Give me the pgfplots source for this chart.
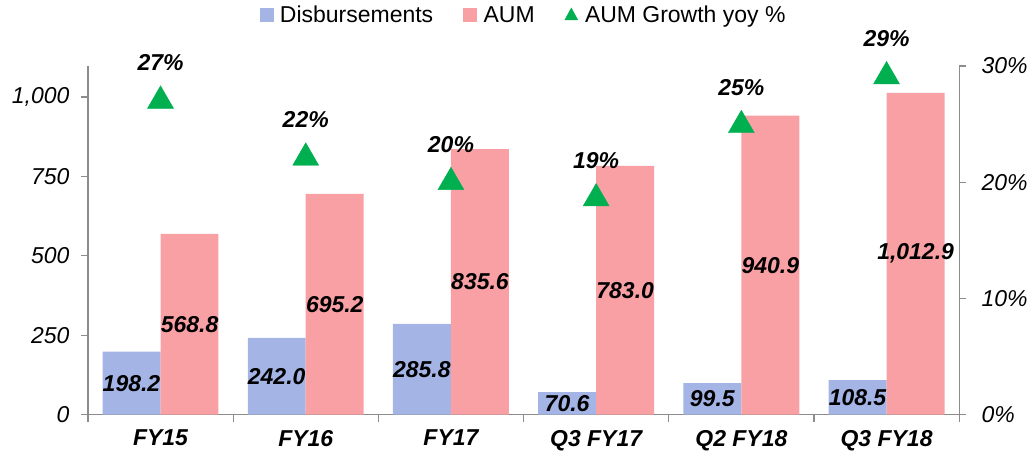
\documentclass[border=0pt]{standalone}
\usepackage{pgfplots}
\pgfplotsset{compat=1.18}
\usepackage{fontspec}
\setmainfont{Liberation Sans}

\definecolor{disbblue}{HTML}{A3B4E5}
\definecolor{aumpink}{HTML}{F9A0A4}
\definecolor{growgreen}{HTML}{00B050}
\definecolor{axgray}{HTML}{8C8C8C}

\newcommand{\bigf}{\fontsize{23}{27}\selectfont}

\pgfplotsset{
  base/.style={
    scale only axis, width=872pt, height=349pt,
    xmin=-0.5, xmax=5.5,
    axis line style={axgray, line width=1.2pt},
    tick style={axgray, line width=1.2pt},
    tick align=outside, major tick length=7pt,
    /pgf/number format/assume math mode=true,
    ticklabel style={font=\bigf\itshape},
  },
  lab/.style={draw=none, mark=none, nodes near coords,
    point meta=explicit symbolic,
    nodes near coords style={anchor=center, font=\bigf\bfseries\itshape, text=black}},
}

\begin{document}
\begin{tikzpicture}
\begin{axis}[base,
  ymin=0, ymax=1097.5,
  axis y line*=left, axis x line*=bottom,
  ytick={0,250,500,750,1000},
  yticklabel style={xshift=-8pt},
  /pgf/number format/1000 sep={,},
  xtick={0,...,5},
  xticklabels={FY15,FY16,FY17,Q3 FY17,Q2 FY18,Q3 FY18},
  xticklabel style={font=\bigf\bfseries\itshape, yshift=-5pt},
  major x tick style={draw=none},
  minor xtick={-0.5,0.5,...,5.5},
  minor tick length=7pt,
  minor x tick style={axgray, line width=1.2pt},
]
\addplot[ybar, bar width=58pt, bar shift=-29pt, fill=disbblue, draw=none] coordinates {
  (0,198.2) (1,242.0) (2,285.8) (3,70.6) (4,99.5) (5,108.5)};
\addplot[ybar, bar width=58pt, bar shift=29pt, fill=aumpink, draw=none] coordinates {
  (0,568.8) (1,695.2) (2,835.6) (3,783.0) (4,940.9) (5,1012.9)};
% value labels, centred in the bars
\addplot[lab] coordinates {
  (-0.2,99.1)[198.2] (0.8,121.0)[242.0] (1.8,142.9)[285.8]
  (2.8,35.3)[70.6] (3.8,49.75)[99.5] (4.8,54.25)[108.5]};
\addplot[lab] coordinates {
  (0.2,284.4)[568.8] (1.2,347.6)[695.2] (2.2,417.8)[835.6]
  (3.2,391.5)[783.0] (4.2,470.45)[940.9] (5.2,506.45)[{1,012.9}]};
\end{axis}

\begin{axis}[base,
  ymin=0, ymax=30,
  axis y line*=right, axis x line=none,
  ytick={0,10,20,30},
  yticklabel={\pgfmathprintnumber{\tick}\%},
  yticklabel style={xshift=12pt},
  legend style={draw=none, at={(0.5,1)}, anchor=center, yshift=51pt,
    font=\bigf, legend columns=3,
    /tikz/every odd column/.append style={column sep=5pt},
    /tikz/every even column/.append style={column sep=28pt}},
  legend cell align=left,
]
\addlegendimage{legend image code/.code={\fill[disbblue] (0pt,-6pt) rectangle (13pt,7pt);}}
\addlegendentry{Disbursements}
\addlegendimage{legend image code/.code={\fill[aumpink] (0pt,-6pt) rectangle (13pt,7pt);}}
\addlegendentry{AUM}
\addplot[only marks, mark=triangle*, mark size=15pt, color=growgreen,
  legend image code/.code={\fill[growgreen] (0pt,-5pt) -- (13pt,-5pt) -- (6.5pt,7pt) -- cycle;},
  nodes near coords, point meta=explicit symbolic,
  nodes near coords style={anchor=center, yshift=38pt, font=\bigf\bfseries\itshape, text=black}]
  coordinates {(0,27.0)[27\%] (1,22.1)[22\%] (2,20.0)[20\%] (3,18.6)[19\%] (4,24.9)[25\%] (5,29.1)[29\%]};
\addlegendentry{AUM Growth yoy \%}
\end{axis}
\path[use as bounding box] (-88pt,-41pt) rectangle (943pt,415pt);
\end{tikzpicture}
\end{document}
